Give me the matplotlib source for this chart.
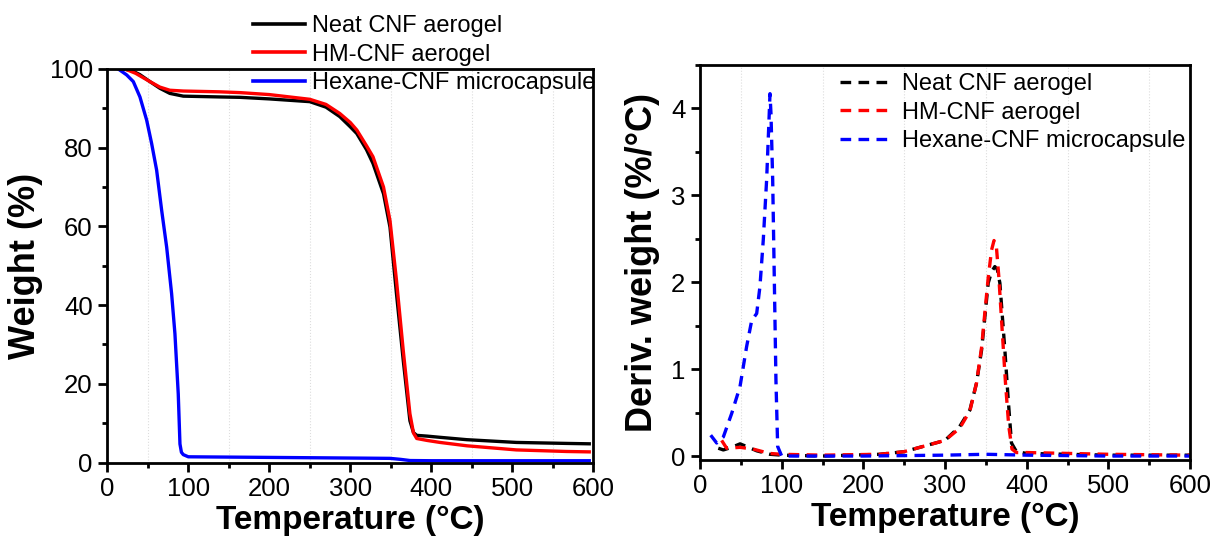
import matplotlib.pyplot as plt
from matplotlib.ticker import MultipleLocator

plt.rcParams['font.family'] = ['Liberation Sans', 'DejaVu Sans']

# ---------------- TGA (weight %) ----------------
neat_t = [20, 30, 40, 52.6, 64.9, 77.2, 93.8, 138.6, 163.8, 200, 250, 270, 287, 300, 308, 320, 328, 341, 349,
          357, 365.4, 373.6, 378, 382, 395, 410.7, 443.7, 505, 567, 595]
neat_w = [100, 99.6, 98.6, 96.8, 95.1, 93.8, 93.1, 92.9, 92.8, 92.4, 91.7, 90.3, 87.9, 85.3, 83.6, 79.5, 76.0, 68.3, 59.8,
          42.9, 25.9, 10.6, 7.6, 6.9, 6.7, 6.4, 5.8, 5.1, 4.85, 4.75]

hm_t = [21.8, 35, 52.6, 64.9, 77.2, 93.8, 138.6, 163.8, 200, 250, 270, 287, 300, 308, 320, 328, 341, 349,
        357, 365.4, 373.6, 378, 382, 395, 410.7, 443.7, 505, 567, 595]
hm_w = [100, 98.9, 96.8, 95.4, 94.6, 94.4, 94.2, 94.0, 93.5, 92.3, 91.0, 88.7, 86.4, 84.5, 80.5, 77.7, 70.0, 61.5,
        46.3, 28.4, 12.4, 7.5, 6.1, 5.6, 5.1, 4.25, 3.2, 2.8, 2.7]

hex_t = [13.6, 23.9, 32.1, 40.3, 48.6, 54.7, 60.9, 67.1, 73.3, 79.4, 83.5, 87.6, 89.7, 91.5, 93.8, 100,
         196.8, 320, 349, 362, 373.7, 400, 500, 595]
hex_w = [100, 98.5, 96.8, 92.9, 87.0, 81.1, 74.3, 64.1, 54.7, 42.9, 32.7, 17.4, 4.7, 2.6, 2.0, 1.45,
         1.3, 1.1, 1.05, 0.8, 0.5, 0.45, 0.45, 0.45]

# ---------------- DTG (deriv. weight %/°C) ----------------
neat_dt = [22.4, 28.6, 38.8, 49, 57, 69.4, 85.7, 100, 150, 220, 250, 273, 300, 318, 330.5, 338.6, 344.8, 348.8,
           352.9, 357, 361, 364, 367.2, 373.3, 377.4, 381.4, 387.5, 400, 450, 500, 600]
neat_d = [0.09, 0.07, 0.10, 0.14, 0.11, 0.06, 0.02, 0.01, 0.0, 0.02, 0.05, 0.11, 0.18, 0.34, 0.53, 0.84, 1.22, 1.60,
          1.99, 2.12, 2.18, 2.15, 1.99, 1.22, 0.65, 0.15, 0.05, 0.03, 0.02, 0.01, 0.01]

hm_dt = [26.5, 32.6, 49, 65, 85, 100, 150, 220, 250, 273, 300, 318, 330.5, 338.6, 344.8, 348.8, 352.9, 357,
         360, 363, 366, 370, 374, 378, 382, 387.5, 400, 450, 500, 600]
hm_d = [0.18, 0.09, 0.10, 0.08, 0.03, 0.02, 0.01, 0.02, 0.05, 0.11, 0.18, 0.32, 0.52, 0.84, 1.25, 1.65, 2.05, 2.37,
        2.48, 2.40, 2.05, 1.45, 0.85, 0.35, 0.08, 0.04, 0.04, 0.03, 0.02, 0.01]

hex_dt = [13.1, 20.4, 28.6, 38.8, 49, 57.1, 63.3, 69.4, 73.4, 77.5, 81.6, 84.5, 85.7, 86.9, 89, 91, 93, 95.1,
          100, 200, 300, 350, 400, 500, 600]
hex_d = [0.24, 0.15, 0.22, 0.49, 0.80, 1.26, 1.56, 1.64, 1.95, 2.49, 3.18, 3.87, 4.17, 3.94, 3.18, 2.03, 0.87, 0.11,
         0.0, 0.0, 0.01, 0.02, 0.01, 0.0, 0.0]

labels = ["Neat CNF aerogel", "HM-CNF aerogel", "Hexane-CNF microcapsule"]
colors = ['black', 'red', 'blue']

W, H = 1216, 542
fig = plt.figure(figsize=(12.16, 5.42), dpi=100)
ax1 = fig.add_axes([107.3 / W, 1 - 462.5 / H, 486 / W, 393.5 / H])
ax2 = fig.add_axes([700 / W, 1 - 459.5 / H, 490 / W, 394.5 / H])


def style(ax):
    for s in ax.spines.values():
        s.set_linewidth(2)
    ax.tick_params(which='major', direction='out', length=6.5, width=2, labelsize=18.5,
                   top=False, right=False, pad=4)
    ax.tick_params(which='minor', direction='out', length=3.5, width=2,
                   top=False, right=False)
    ax.xaxis.set_major_locator(MultipleLocator(100))
    ax.xaxis.set_minor_locator(MultipleLocator(50))
    ax.grid(which='minor', axis='x', color='#dddddd', linestyle=':', linewidth=0.8)
    ax.set_xlim(0, 600)
    ax.set_xlabel('Temperature (°C)', fontsize=24, fontweight='bold', labelpad=3)


# ===== 左图 TGA =====
for t, w, c, lb in zip([neat_t, hm_t, hex_t], [neat_w, hm_w, hex_w], colors, labels):
    ax1.plot(t, w, color=c, lw=2.4, label=lb)
style(ax1)
ax1.set_ylim(0, 100)
ax1.yaxis.set_major_locator(MultipleLocator(20))
ax1.yaxis.set_minor_locator(MultipleLocator(10))
ax1.set_ylabel('Weight (%)', fontsize=26, fontweight='bold', labelpad=5)
leg1 = ax1.legend(loc='upper left', bbox_to_anchor=(253 / W, 1 - 15 / H), bbox_transform=fig.transFigure,
                  frameon=False, fontsize=17, handlelength=2.2, labelspacing=0.28, handletextpad=0.28,
                  borderpad=0, borderaxespad=0)
for ln in leg1.get_lines():
    ln.set_linewidth(2.6)

# ===== 右图 DTG =====
for t, d, c, lb in zip([neat_dt, hm_dt, hex_dt], [neat_d, hm_d, hex_d], colors, labels):
    ax2.plot(t, d, color=c, lw=2.4, ls=(0, (3.2, 2.2)), label=lb)
style(ax2)
ax2.set_ylim(-0.04, 4.5)
ax2.yaxis.set_major_locator(MultipleLocator(1))
ax2.yaxis.set_minor_locator(MultipleLocator(0.5))
ax2.set_ylabel('Deriv. weight (%/°C)', fontsize=26, fontweight='bold', labelpad=8)
ax2.legend(loc='upper left', bbox_to_anchor=(840 / W, 1 - 73 / H), bbox_transform=fig.transFigure,
           frameon=False, fontsize=17, handlelength=2.1, labelspacing=0.28, handletextpad=0.54,
           borderpad=0, borderaxespad=0)

fig.savefig('out.png', dpi=100)
